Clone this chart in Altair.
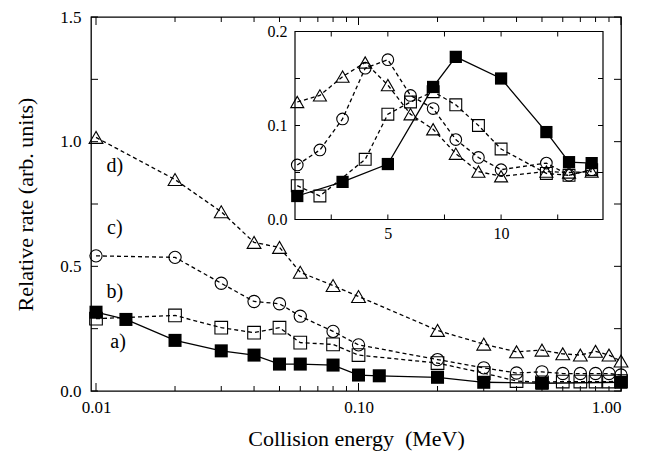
import altair as alt
import pandas as pd

# ---------------- main panel data (collision energy, MeV) ----------------
main_E_a = [0.01, 0.013, 0.02, 0.03, 0.04, 0.05, 0.06, 0.08, 0.10, 0.12, 0.20, 0.30, 0.50, 1.00]
main_rate_a = [0.316, 0.287, 0.203, 0.161, 0.144, 0.108, 0.108, 0.104, 0.064, 0.061, 0.055, 0.035, 0.031, 0.035]

main_E = [0.01, 0.02, 0.03, 0.04, 0.05, 0.06, 0.08, 0.10, 0.20, 0.30, 0.40, 0.50, 0.60, 0.70, 0.80, 0.90, 1.00]
main_rate_b = [0.290, 0.303, 0.254, 0.234, 0.254, 0.194, 0.187, 0.144, 0.112, 0.072, 0.040, 0.035, 0.038, 0.038, 0.038, 0.038, 0.040]
main_rate_c = [0.542, 0.536, 0.432, 0.359, 0.350, 0.300, 0.239, 0.185, 0.126, 0.093, 0.072, 0.077, 0.070, 0.070, 0.070, 0.070, 0.064]
main_rate_d = [1.017, 0.848, 0.719, 0.596, 0.576, 0.476, 0.423, 0.379, 0.243, 0.188, 0.157, 0.164, 0.149, 0.144, 0.159, 0.144, 0.120]

series_labels = ["a)", "b)", "c)", "d)"]
label_E = [0.01213, 0.0118, 0.0118, 0.0118]
label_rate = [0.197, 0.396, 0.655, 0.901]

# ---------------- inset data ----------------
inset_x_a = [1, 3, 5, 7, 8, 10, 12, 13, 14]
inset_y_a = [0.025, 0.040, 0.059, 0.141, 0.173, 0.150, 0.093, 0.061, 0.060]
inset_x_b = [1, 2, 4, 5, 6, 7, 8, 9, 10, 12, 13, 14]
inset_y_b = [0.036, 0.025, 0.064, 0.112, 0.125, 0.136, 0.122, 0.100, 0.075, 0.049, 0.047, 0.053]
inset_x_c = [1, 2, 3, 4, 5, 6, 7, 8, 9, 10, 12, 13, 14]
inset_y_c = [0.058, 0.074, 0.107, 0.161, 0.170, 0.132, 0.118, 0.085, 0.066, 0.053, 0.060, 0.047, 0.053]
inset_x_d = [1, 2, 3, 4, 5, 6, 7, 8, 9, 10, 12, 13, 14]
inset_y_d = [0.125, 0.132, 0.152, 0.167, 0.143, 0.112, 0.096, 0.070, 0.051, 0.046, 0.051, 0.050, 0.051]

# ---------------- axis ticks / labels ----------------
main_x_labels = [0.01, 0.1, 1.0]
main_x_major = [0.01, 0.1, 1.0]
main_x_minor = [0.02, 0.03, 0.04, 0.05, 0.06, 0.07, 0.08, 0.09,
                0.2, 0.3, 0.4, 0.5, 0.6, 0.7, 0.8, 0.9]
main_y_labels = [0.0, 0.5, 1.0, 1.5]
main_y_minor = [0.25, 0.75, 1.25]
inset_x_labels = [5, 10]
inset_x_ticks = [2.5, 5, 7.5, 10, 12.5]
inset_y_labels = [0.0, 0.1, 0.2]
inset_y_ticks = [0.05, 0.1, 0.15]

FONT = "Liberation Serif"
W, H = 530, 374
X_DOM = [0.00957, 1.0]
Y_DOM = [0.0, 1.5]
IX_DOM = [0.9, 14.5]
IY_DOM = [0.0, 0.2]
IX_RANGE = [204, 512]
IY_RANGE = [202.5, 14.5]

mx = alt.Scale(type="log", domain=X_DOM)
my = alt.Scale(domain=Y_DOM)
ix = alt.Scale(domain=IX_DOM, range=IX_RANGE)
iy = alt.Scale(domain=IY_DOM, range=IY_RANGE)

x_axis_main = alt.Axis(values=main_x_labels, format=".2f", ticks=False, domain=False,
                       grid=False, labelFont=FONT, labelFontSize=17, labelPadding=8,
                       labelColor="black", title="Collision energy\u00a0 (MeV)", titleFont=FONT,
                       titleFontSize=22, titleFontWeight="normal", titleColor="black",
                       titlePadding=13)
y_axis_main = alt.Axis(values=main_y_labels, format=".1f", ticks=False, domain=False,
                       grid=False, labelFont=FONT, labelFontSize=17, labelPadding=10,
                       labelColor="black", title="Relative rate (arb. units)", titleFont=FONT,
                       titleFontSize=22, titleFontWeight="normal", titleColor="black",
                       titlePadding=22)
x_axis_inset = alt.Axis(orient="bottom", offset=IY_RANGE[0] - H, values=inset_x_labels,
                        ticks=False, domain=False, grid=False, labelFont=FONT,
                        labelFontSize=16, labelPadding=6, labelColor="black", title="")
y_axis_inset = alt.Axis(orient="left", offset=-IX_RANGE[0], values=inset_y_labels, format=".1f",
                        ticks=False, domain=False, grid=False, labelFont=FONT,
                        labelFontSize=16, labelPadding=8, labelColor="black", title="")


def series_layers(xs, ys, shape, filled, dashed, size, xsc, ysc, xax, yax):
    d = pd.DataFrame({"x": xs, "y": ys})
    enc = dict(x=alt.X("x:Q", scale=xsc, axis=xax), y=alt.Y("y:Q", scale=ysc, axis=yax))
    line_kw = dict(color="black", strokeWidth=1.3)
    if dashed:
        line_kw["strokeDash"] = [4, 3]
    line = alt.Chart(d).mark_line(**line_kw).encode(**enc)
    if filled:
        pt = alt.Chart(d).mark_point(shape=shape, filled=True, color="black", opacity=1,
                                     size=size).encode(**enc)
    else:
        pt = alt.Chart(d).mark_point(shape=shape, filled=False, color="black", opacity=1,
                                     strokeWidth=1.1, size=size).encode(**enc)
    return [line, pt]


def xticks(vals, xsc, ysc, xax, yax, yval, off):
    d = pd.DataFrame({"t": vals})
    return alt.Chart(d).mark_rule(color="black", strokeWidth=1, y2Offset=off).encode(
        x=alt.X("t:Q", scale=xsc, axis=xax),
        y=alt.YDatum(yval, scale=ysc, axis=yax),
        y2=alt.Y2Datum(yval))


def yticks(vals, xsc, ysc, xax, yax, xval, off):
    d = pd.DataFrame({"t": vals})
    return alt.Chart(d).mark_rule(color="black", strokeWidth=1, x2Offset=off).encode(
        y=alt.Y("t:Q", scale=ysc, axis=yax),
        x=alt.XDatum(xval, scale=xsc, axis=xax),
        x2=alt.X2Datum(xval))


M = (mx, my, x_axis_main, y_axis_main)
main_layers = []
main_layers += series_layers(main_E, main_rate_d, "triangle-up", False, True, 190, *M)
main_layers += series_layers(main_E, main_rate_c, "circle", False, True, 150, *M)
main_layers += series_layers(main_E, main_rate_b, "square", False, True, 160, *M)
main_layers += series_layers(main_E_a, main_rate_a, "square", True, False, 170, *M)

labels_df = pd.DataFrame({"x": label_E, "y": label_rate, "t": series_labels})
main_layers.append(
    alt.Chart(labels_df).mark_text(font=FONT, fontSize=20, color="black", align="center",
                                   baseline="middle").encode(
        x=alt.X("x:Q", scale=mx, axis=x_axis_main),
        y=alt.Y("y:Q", scale=my, axis=y_axis_main), text="t:N")
)
main_layers += [
    xticks(main_x_major, *M, Y_DOM[0], -8),
    xticks(main_x_minor, *M, Y_DOM[0], -5),
    xticks(main_x_major, *M, Y_DOM[1], 8),
    xticks(main_x_minor, *M, Y_DOM[1], 5),
    yticks(main_y_labels, *M, X_DOM[0], 7),
    yticks(main_y_minor, *M, X_DOM[0], 7),
    yticks(main_y_labels, *M, X_DOM[1], -7),
    yticks(main_y_minor, *M, X_DOM[1], -7),
]
main_group = alt.layer(*main_layers)

# ---------------- inset ----------------
I = (ix, iy, x_axis_inset, y_axis_inset)
box = alt.Chart(pd.DataFrame({"k": [0]})).mark_rect(fill="white", stroke="black", strokeWidth=1.2).encode(
    x=alt.XDatum(IX_DOM[0], scale=ix, axis=x_axis_inset),
    x2=alt.X2Datum(IX_DOM[1]),
    y=alt.YDatum(IY_DOM[0], scale=iy, axis=y_axis_inset),
    y2=alt.Y2Datum(IY_DOM[1]),
)
inset_layers = [box]
inset_layers += series_layers(inset_x_d, inset_y_d, "triangle-up", False, True, 170, *I)
inset_layers += series_layers(inset_x_c, inset_y_c, "circle", False, True, 135, *I)
inset_layers += series_layers(inset_x_b, inset_y_b, "square", False, True, 140, *I)
inset_layers += series_layers(inset_x_a, inset_y_a, "square", True, False, 150, *I)
inset_layers += [
    xticks(inset_x_ticks, *I, IY_DOM[0], -5),
    xticks(inset_x_ticks, *I, IY_DOM[1], 5),
    yticks(inset_y_ticks, *I, IX_DOM[0], 5),
    yticks(inset_y_ticks, *I, IX_DOM[1], -5),
]
inset_group = alt.layer(*inset_layers)

chart = alt.layer(main_group, inset_group).resolve_scale(
    x="independent", y="independent"
).properties(
    width=W, height=H,
    autosize=alt.AutoSizeParams(type="none"),
    padding={"left": 83, "top": 9, "right": 20, "bottom": 70},
    background="white",
).configure_view(stroke="black", strokeWidth=1.3)

chart.save("out.html", embed_options={"renderer": "svg", "actions": False})
